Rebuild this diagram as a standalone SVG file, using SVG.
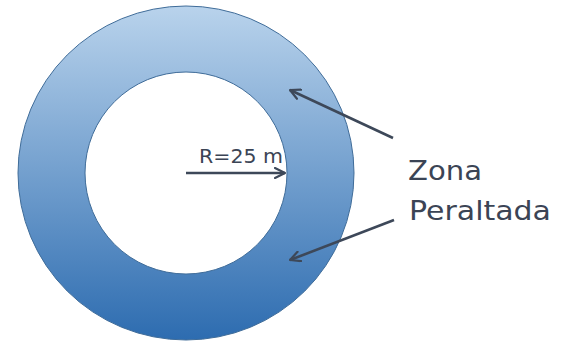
<svg xmlns="http://www.w3.org/2000/svg" width="570" height="341" viewBox="0 0 570 341">
<defs>
<linearGradient id="g" x1="0" y1="0" x2="0" y2="1">
<stop offset="0" stop-color="#b9d3ec"/>
<stop offset="1" stop-color="#2d6cb0"/>
</linearGradient>
<marker id="ah" viewBox="0 0 12 12" refX="11" refY="6" markerWidth="12" markerHeight="12" markerUnits="userSpaceOnUse" orient="auto">
<path d="M1,1 L11,6 L1,11" fill="none" stroke="#3d4859" stroke-width="2.2" stroke-linecap="round" stroke-linejoin="round"/>
</marker>
<style>
.lbl{font-family:"DejaVu Sans","Open Sans",sans-serif;fill:#3b4455}
.conn{stroke:#3d4859;stroke-width:2.6;fill:none;marker-end:url(#ah)}
</style>
</defs>
<g id="ring">
<ellipse cx="186" cy="173" rx="168" ry="167" fill="url(#g)" stroke="#3f6c99" stroke-width="1"/>
<circle cx="186" cy="173" r="101" fill="#ffffff" stroke="#3f6c99" stroke-width="1"/>
</g>
<g id="connectors">
<line class="conn" x1="186" y1="173" x2="285" y2="173"/>
<line class="conn" x1="393" y1="138" x2="290" y2="90"/>
<line class="conn" x1="394" y1="220" x2="290" y2="260"/>
</g>
<g id="radius-label">
<text class="lbl" x="199" y="163" font-size="19" textLength="84" lengthAdjust="spacingAndGlyphs">R=25 m</text>
</g>
<g id="zona-label">
<text class="lbl" x="408" y="180" font-size="27" textLength="74" lengthAdjust="spacingAndGlyphs">Zona</text>
<text class="lbl" x="409" y="220" font-size="27" textLength="142" lengthAdjust="spacingAndGlyphs">Peraltada</text>
</g>
</svg>
